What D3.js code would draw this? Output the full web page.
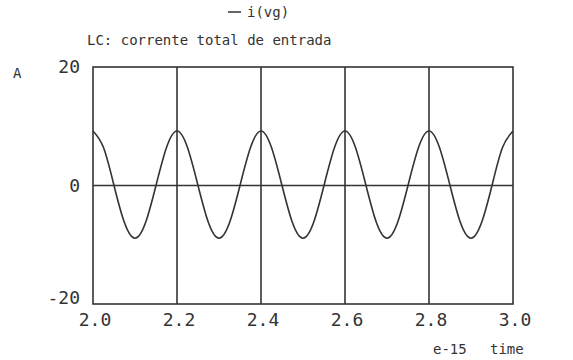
<!DOCTYPE html>
<html>
<head>
<meta charset="utf-8">
<script src="https://cdn.jsdelivr.net/npm/d3@7"></script>
<style>
  body { margin: 0; background: #fff; }
  svg text { font-family: "DejaVu Sans Mono", monospace; fill: #333; }
</style>
</head>
<body>
<svg id="chart" width="573" height="360"></svg>
<script>
// values (time in e-15, current in A)
var times = [2.0, 2.025, 2.05, 2.075, 2.1, 2.125, 2.15, 2.175,
             2.2, 2.225, 2.25, 2.275, 2.3, 2.325, 2.35, 2.375,
             2.4, 2.425, 2.45, 2.475, 2.5, 2.525, 2.55, 2.575,
             2.6, 2.625, 2.65, 2.675, 2.7, 2.725, 2.75, 2.775,
             2.8, 2.825, 2.85, 2.875, 2.9, 2.925, 2.95, 2.975, 3.0]
var current = [9.2, 6.4, 0, -6.3, -8.9, -6.3, 0, 6.4,
               9.2, 6.4, 0, -6.3, -8.9, -6.3, 0, 6.4,
               9.2, 6.4, 0, -6.3, -8.9, -6.3, 0, 6.4,
               9.2, 6.4, 0, -6.3, -8.9, -6.3, 0, 6.4,
               9.2, 6.4, 0, -6.3, -8.9, -6.3, 0, 6.4, 9.2]
var xTicks = [2.0, 2.2, 2.4, 2.6, 2.8, 3.0]
var yTicks = [-20, 0, 20]

// plot box (window.top is read-only, so no plain "top")
var pL = 93, pR = 513, pT = 67, pB = 304
var ink = '#333'

var svg = d3.select('#chart')

var x = d3.scaleLinear().domain([2.0, 3.0]).range([pL, pR])
var y = d3.scaleLinear().domain([-20, 20]).range([pB, pT])

// frame
svg.append('rect')
    .attr('x', pL).attr('y', pT)
    .attr('width', pR - pL).attr('height', pB - pT)
    .attr('fill', 'none').attr('stroke', ink).attr('stroke-width', 1.6)

// vertical grid at each x tick
svg.append('g').selectAll('line')
    .data(xTicks.slice(1, -1))
    .enter().append('line')
    .attr('x1', d => x(d)).attr('x2', d => x(d))
    .attr('y1', pT).attr('y2', pB)
    .attr('stroke', ink).attr('stroke-width', 1.6)

// zero line
svg.append('line')
    .attr('x1', pL).attr('x2', pR)
    .attr('y1', y(0)).attr('y2', y(0))
    .attr('stroke', ink).attr('stroke-width', 1.6)

// x tick labels
svg.append('g').selectAll('text')
    .data(xTicks)
    .enter().append('text')
    .attr('x', d => x(d) + 2)
    .attr('y', 326)
    .attr('text-anchor', 'middle')
    .attr('font-size', 18)
    .text(d => d.toFixed(1))

// y tick labels (the bottom one sits a bit up and left, like the original)
svg.append('g').selectAll('text')
    .data(yTicks)
    .enter().append('text')
    .attr('x', d => d == -20 ? 80 : 80)
    .attr('y', d => d == -20 ? y(d) : y(d) + 6)
    .attr('text-anchor', 'end')
    .attr('font-size', 18)
    .text(d => d)

// the curve
var line = d3.line()
    .x((d, i) => x(times[i]))
    .y(d => y(d))
    .curve(d3.curveNatural)

svg.append('path')
    .datum(current)
    .attr('d', line)
    .attr('fill', 'none')
    .attr('stroke', ink)
    .attr('stroke-width', 1.6)

// texts
svg.append('line')
    .attr('x1', 228).attr('x2', 241).attr('y1', 12).attr('y2', 12)
    .attr('stroke', ink).attr('stroke-width', 1.5)
svg.append('text').attr('x', 247).attr('y', 17).attr('font-size', 14).text('i(vg)')
svg.append('text').attr('x', 87).attr('y', 45).attr('font-size', 14).text('LC: corrente total de entrada')
svg.append('text').attr('x', 13).attr('y', 78).attr('font-size', 14).text('A')
svg.append('text').attr('x', 433).attr('y', 354).attr('font-size', 14).text('e-15')
svg.append('text').attr('x', 490).attr('y', 354).attr('font-size', 14).text('time')
</script>
</body>
</html>
